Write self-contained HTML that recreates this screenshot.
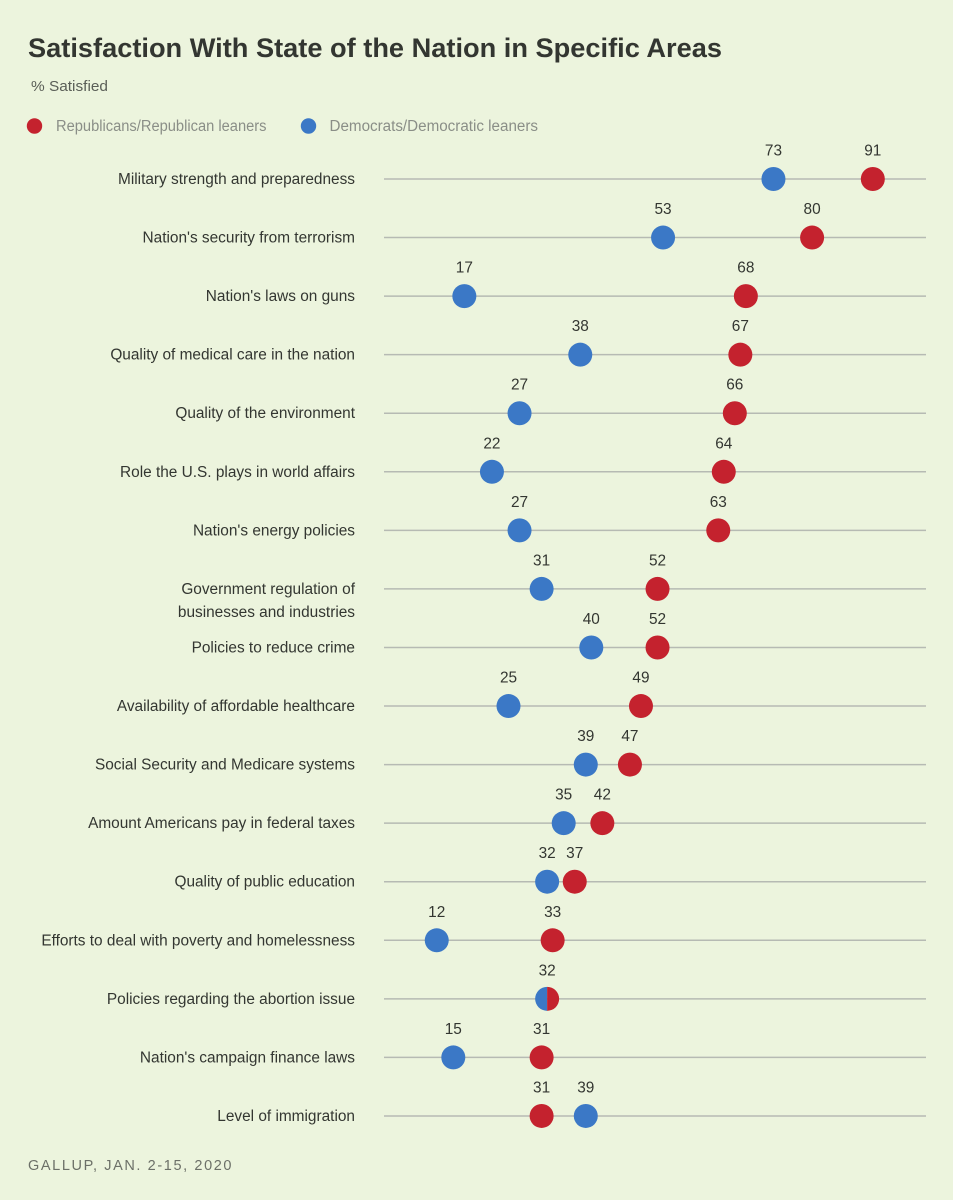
<!DOCTYPE html>
<html lang="en">
<head>
<meta charset="utf-8">
<title>Satisfaction With State of the Nation in Specific Areas</title>
<style>
  html, body { margin: 0; padding: 0; background: #ecf4dd; }
  svg { display: block; font-family: "Liberation Sans", sans-serif; }
</style>
</head>
<body>
<svg id="chart" width="953" height="1200" viewBox="0 0 953 1200" xmlns="http://www.w3.org/2000/svg">
  <rect width="953" height="1200" fill="#ecf4dd"/>
  <text x="28" y="57" font-size="27" font-weight="700" fill="#333631" textLength="694" lengthAdjust="spacingAndGlyphs">Satisfaction With State of the Nation in Specific Areas</text>
  <text x="31" y="91" font-size="14.5" fill="#5a5e57" textLength="77" lengthAdjust="spacingAndGlyphs">% Satisfied</text>
  <g>
    <circle cx="34.500" cy="126" r="7.7" fill="#c4222e"/>
    <text x="56" y="131" font-size="15.4" fill="#8a8e87" textLength="210.500" lengthAdjust="spacingAndGlyphs">Republicans/Republican leaners</text>
    <circle cx="308.500" cy="126" r="7.7" fill="#3b78c6"/>
    <text x="329.500" y="131" font-size="15.4" fill="#8a8e87" textLength="208.500" lengthAdjust="spacingAndGlyphs">Democrats/Democratic leaners</text>
  </g>
  <g id="rows"></g>
  <text x="28" y="1170" font-size="14.5" fill="#6c7068" letter-spacing="1.5" textLength="205">GALLUP, JAN. 2-15, 2020</text>
</svg>
<script>
const categories = [
  "Military strength and preparedness",
  "Nation's security from terrorism",
  "Nation's laws on guns",
  "Quality of medical care in the nation",
  "Quality of the environment",
  "Role the U.S. plays in world affairs",
  "Nation's energy policies",
  "Government regulation of|businesses and industries",
  "Policies to reduce crime",
  "Availability of affordable healthcare",
  "Social Security and Medicare systems",
  "Amount Americans pay in federal taxes",
  "Quality of public education",
  "Efforts to deal with poverty and homelessness",
  "Policies regarding the abortion issue",
  "Nation's campaign finance laws",
  "Level of immigration"
];
const republicans = [91, 80, 68, 67, 66, 64, 63, 52, 52, 49, 47, 42, 37, 33, 32, 31, 31];
const democrats = [73, 53, 17, 38, 27, 22, 27, 31, 40, 25, 39, 35, 32, 12, 32, 15, 39];

const RED = "#c4222e";
const BLUE = "#3b78c6";
const NS = "http://www.w3.org/2000/svg";
const rows = document.getElementById("rows");

function xScale(v) { return 370.5 + 5.52 * v; }
function yScale(i) { return 179 + 58.56 * i; }
function slug(s) {
  return s.toLowerCase().replace(/[^a-z0-9]+/g, "-").replace(/^-|-$/g, "");
}
function make(tag, attrs, parent) {
  const el = document.createElementNS(NS, tag);
  for (const k in attrs) el.setAttribute(k, attrs[k]);
  parent.appendChild(el);
  return el;
}
function valueLabel(v, y, parent, series) {
  const t = make("text", { x: xScale(v), y: y - 23.5, "text-anchor": "middle", "font-size": 15.4, fill: "#333631" }, parent);
  t.textContent = v;
  
  
}

categories.forEach(function (cat, i) {
  const y = yScale(i);
  const g = make("g", {}, rows);
  
  

  const line = make("line", { x1: 384, x2: 926, y1: y, y2: y, stroke: "#b6bab3", "stroke-width": 1.5 }, g);
  
  

  cat.split("|").forEach(function (part, j) {
    const t = make("text", { x: 355, y: y + 5 + j * 23, "text-anchor": "end", "font-size": 15.4, fill: "#333631" }, g);
    t.textContent = part;
    
    
  });

  const r = republicans[i], d = democrats[i];
  if (r === d) {
    const cx = xScale(r);
    const left = make("path", { d: "M" + cx + " " + (y - 12) + "A12 12 0 0 0 " + cx + " " + (y + 12) + "Z", fill: BLUE }, g);
    
    
    const right = make("path", { d: "M" + cx + " " + (y - 12) + "A12 12 0 0 1 " + cx + " " + (y + 12) + "Z", fill: RED }, g);
    
    
    valueLabel(r, y, g, 'shared');
  } else {
    const cd = make("circle", { cx: xScale(d), cy: y, r: 12, fill: BLUE }, g);
    
    
    const cr = make("circle", { cx: xScale(r), cy: y, r: 12, fill: RED }, g);
    
    
    valueLabel(d, y, g, 'democrats');
    valueLabel(r, y, g, 'republicans');
  }
});
</script>
</body>
</html>
